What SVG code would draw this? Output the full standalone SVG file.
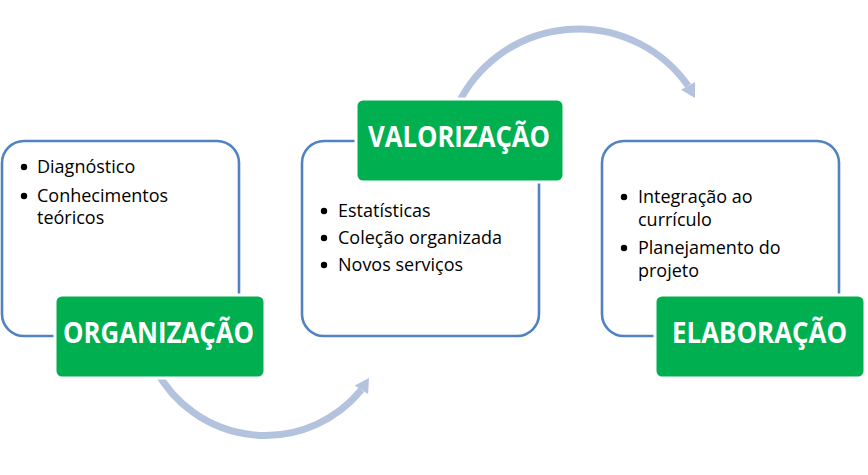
<svg xmlns="http://www.w3.org/2000/svg" width="868" height="475" viewBox="0 0 868 475">
<style>
.panel{fill:#FFFFFF;stroke:#5282C0;stroke-width:2.6}
.tag{fill:#00B050;stroke:#FFFFFF;stroke-width:3}
.tagtext{font-family:"Open Sans","DejaVu Sans",sans-serif;font-weight:bold;font-size:28px;fill:#FFFFFF}
.item{font-family:"Open Sans","DejaVu Sans",sans-serif;font-size:18px;fill:#000000}
.bullet{fill:#000000}
.arc{fill:none;stroke:#B3C3DE;stroke-width:7}
.head{fill:#B3C3DE}
</style>
<rect width="868" height="475" fill="#FFFFFF"/>
<g id="panel-organizacao">
<rect class="panel" x="2" y="141" width="237" height="195" rx="22"/>
<circle class="bullet" cx="24" cy="167" r="3.2"/>
<text class="item" x="37" y="173">Diagnóstico</text>
<circle class="bullet" cx="24" cy="196" r="3.2"/>
<text class="item" x="37" y="202">Conhecimentos</text>
<text class="item" x="37" y="224">teóricos</text>
</g>
<g id="panel-valorizacao">
<rect class="panel" x="302" y="141" width="237" height="195" rx="22"/>
<circle class="bullet" cx="324" cy="211" r="3.2"/>
<text class="item" x="338" y="217">Estatísticas</text>
<circle class="bullet" cx="324" cy="238" r="3.2"/>
<text class="item" x="338" y="244">Coleção organizada</text>
<circle class="bullet" cx="324" cy="265" r="3.2"/>
<text class="item" x="338" y="271">Novos serviços</text>
</g>
<g id="panel-elaboracao">
<rect class="panel" x="602" y="141" width="237" height="195" rx="22"/>
<circle class="bullet" cx="624" cy="197" r="3.2"/>
<text class="item" x="638" y="203">Integração ao</text>
<text class="item" x="638" y="226">currículo</text>
<circle class="bullet" cx="624" cy="248" r="3.2"/>
<text class="item" x="638" y="254">Planejamento do</text>
<text class="item" x="638" y="277">projeto</text>
</g>
<g id="connectors">
<path class="arc" d="M 156 370 A 124 124 0 0 0 361.4 389.8"/>
<polygon class="head" points="369,378 368.1,394.1 354.7,385.5"/>
<path class="arc" d="M 457.7 105 A 134 134 0 0 1 688.1 85.8"/>
<polygon class="head" points="695,98 695.1,81.9 681.1,89.7"/>
</g>
<g id="tag-organizacao">
<rect class="tag" x="55" y="295" width="210" height="83" rx="7"/>
<text class="tagtext" x="63" y="343" textLength="191" lengthAdjust="spacingAndGlyphs">ORGANIZAÇÃO</text>
</g>
<g id="tag-valorizacao">
<rect class="tag" x="356" y="99" width="208" height="83" rx="7"/>
<text class="tagtext" x="368" y="147" textLength="182" lengthAdjust="spacingAndGlyphs">VALORIZAÇÃO</text>
</g>
<g id="tag-elaboracao">
<rect class="tag" x="655" y="295" width="210" height="83" rx="7"/>
<text class="tagtext" x="672" y="343" textLength="175" lengthAdjust="spacingAndGlyphs">ELABORAÇÃO</text>
</g>
</svg>
